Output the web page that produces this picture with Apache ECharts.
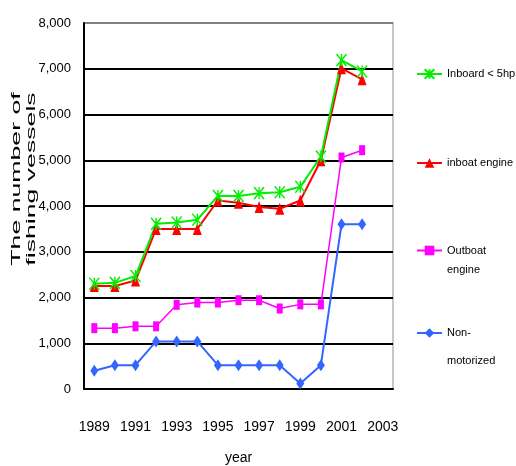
<!DOCTYPE html>
<html lang="en">
  <head>
    <meta charset="UTF-8" />
    <title>Fishing vessels by type</title>
    <script src="https://cdn.jsdelivr.net/npm/echarts@6/dist/echarts.min.js"></script>
    <style>
      html, body { margin: 0; padding: 0; background: #fff; }
    </style>
  </head>
  <body>
    <div id="main" style="width: 516px; height: 466px"></div>

    <script type="text/javascript">
      const years = ["1989", "1990", "1991", "1992", "1993", "1994", "1995", "1996",
        "1997", "1998", "1999", "2000", "2001", "2002", "2003"];
      const inboard5hp = [2300, 2320, 2470, 3610, 3640, 3700, 4220, 4220, 4280, 4300, 4420, 5080, 7190, 6940];
      const inboatEngine = [2250, 2250, 2370, 3500, 3500, 3500, 4120, 4070, 3980, 3940, 4120, 5000, 7010, 6770];
      const outboatEngine = [1330, 1330, 1370, 1370, 1840, 1890, 1890, 1940, 1940, 1760, 1850, 1850, 5060, 5220];
      const nonMotorized = [400, 520, 520, 1040, 1040, 1040, 520, 520, 520, 520, 120, 520, 3600, 3600];

      const sans = "'Liberation Sans', Arial, sans-serif";
      const starPath = "path://M0,0L10,12M10,0L0,12M5,0L5,12";

      let myChart = echarts.init(document.getElementById("main"));

      // one legend per entry so each can sit where the original puts it;
      // two-line labels get a blank first line so the icon lines up with the first text line
      function legendAt(name, top, label, lineHeight) {
        return {
          data: [name],
          left: 416,
          top: top,
          padding: 0,
          itemWidth: 25,
          itemHeight: 12,
          formatter: label,
          textStyle: { fontFamily: sans, fontSize: 11, color: "#000", lineHeight: lineHeight },
        };
      }

      const options = {
        animation: false,
        grid: {
          left: 84, right: 123, top: 23, bottom: 77,
          outerBoundsMode: "none",
          show: true, borderColor: "#c8c8c8", borderWidth: 2,
        },
        legend: [
          legendAt("Inboard < 5hp", 67, "Inboard < 5hp", 14),
          legendAt("inboat engine", 156, "inboat engine", 14),
          legendAt("Outboat engine", 222, " \nOutboat\nengine", 19),
          legendAt("Non-motorized", 291, " \nNon-\nmotorized", 28),
        ],
        graphic: [
          {
            type: "text",
            x: 24,
            y: 179,
            rotation: Math.PI / 2,
            scaleX: 2.05,
            style: {
              text: "The number of\nfishing vessels",
              font: "13px 'Liberation Sans', Arial, sans-serif",
              lineHeight: 15,
              fill: "#000",
              align: "center",
              verticalAlign: "middle",
            },
          },
        ],
        xAxis: {
          type: "category",
          data: years,
          boundaryGap: true,
          name: "year",
          nameLocation: "middle",
          nameGap: 62,
          nameTextStyle: { fontFamily: sans, fontSize: 14, color: "#000" },
          axisLine: { lineStyle: { color: "#000", width: 2 } },
          axisTick: { interval: 1, inside: true, length: 6, lineStyle: { color: "#333", width: 1 } },
          axisLabel: { interval: 1, margin: 31, fontFamily: sans, fontSize: 14, color: "#000" },
          splitLine: { show: false },
        },
        yAxis: {
          type: "value",
          min: 0,
          max: 8000,
          interval: 1000,
          axisLine: { show: true, lineStyle: { color: "#000", width: 2 } },
          axisTick: { show: false },
          axisLabel: {
            margin: 13,
            fontFamily: sans,
            fontSize: 13,
            color: "#000",
            formatter: (v) => v.toLocaleString("en-US"),
          },
          splitLine: {
            lineStyle: {
              color: ["#000", "#000", "#000", "#000", "#000", "#000", "#000", "#000", "#808080"],
              width: 2,
            },
          },
        },
        series: [
          {
            name: "Non-motorized",
            type: "line",
            data: nonMotorized,
            symbol: "diamond",
            symbolSize: [8, 12],
            lineStyle: { color: "#3366ff", width: 2 },
            itemStyle: { color: "#3366ff" },
          },
          {
            name: "Outboat engine",
            type: "line",
            data: outboatEngine,
            symbol: "rect",
            symbolSize: [6, 10],
            lineStyle: { color: "#ff00ff", width: 1.5 },
            itemStyle: { color: "#ff00ff" },
          },
          {
            name: "inboat engine",
            type: "line",
            data: inboatEngine,
            symbol: "triangle",
            symbolSize: [9, 12],
            lineStyle: { color: "#ff0000", width: 2 },
            itemStyle: { color: "#ff0000" },
          },
          {
            name: "Inboard < 5hp",
            type: "line",
            data: inboard5hp,
            symbol: starPath,
            symbolSize: [10, 12],
            lineStyle: { color: "#00ee00", width: 2 },
            itemStyle: { color: "#00ee00", borderColor: "#00ee00", borderWidth: 1.5 },
          },
        ],
      };

      myChart.setOption(options);
    </script>
  </body>
</html>
